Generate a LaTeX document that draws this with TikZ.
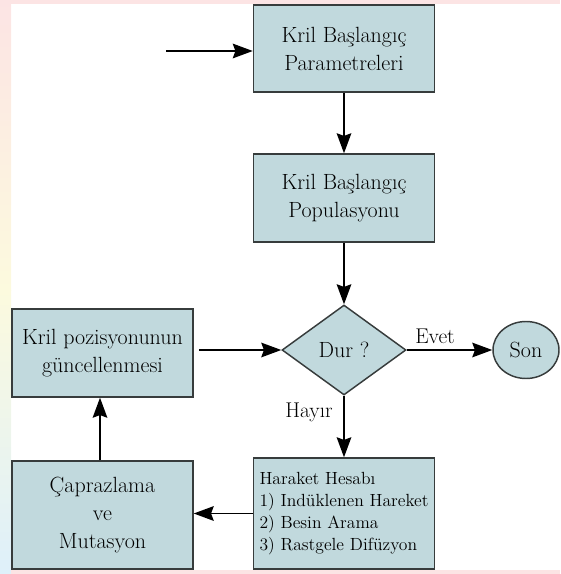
\documentclass[tikz,border=0pt]{standalone}
\usepackage{fontspec}
\usetikzlibrary{shapes.geometric,arrows.meta}
\definecolor{boxfill}{RGB}{193,217,221}
\definecolor{boxline}{RGB}{55,60,60}
\definecolor{wmpink}{RGB}{252,228,228}
\definecolor{wmyellow}{RGB}{252,250,222}
\definecolor{wmblue}{RGB}{222,240,250}
\tikzset{
  stepbox/.style={draw=boxline, fill=boxfill, line width=1.1pt, inner sep=0pt,
    minimum width=135.75pt, align=center, font=\rmfamily\fontsize{16.5}{21}\selectfont},
  decision/.style={diamond, draw=boxline, fill=boxfill, line width=1.1pt, inner sep=0pt,
    minimum width=93pt, minimum height=67.5pt, aspect=1.38, font=\rmfamily\fontsize{16.5}{20}\selectfont},
  terminal/.style={ellipse, draw=boxline, fill=boxfill, line width=1.1pt, inner sep=0pt,
    minimum width=49.5pt, minimum height=42.75pt, font=\rmfamily\fontsize{16.5}{20}\selectfont},
  arr/.style={draw=black, line width=1.1pt, -{Stealth[length=15pt, width=11pt, inset=2pt]}},
  lbl/.style={font=\rmfamily\fontsize{16}{18}\selectfont, inner sep=0pt}
}
\begin{document}
\begin{tikzpicture}[x=0.75pt, y=-0.75pt]
\useasboundingbox (0,0) rectangle (560,574);
% faint background watermark strips
\shade[top color=wmpink, bottom color=wmyellow] (0,0) rectangle (11,290);
\shade[top color=wmyellow, bottom color=wmblue] (0,290) rectangle (11,574);
\fill[wmpink] (11,0) rectangle (560,4);
\fill[wmpink] (11,570) rectangle (560,574);

\node[stepbox, minimum height=65.25pt] (b1) at (344,48.5) {Kril Başlangıç\\Parametreleri};
\node[stepbox, minimum height=66pt] (b2) at (344,198) {Kril Başlangıç\\Populasyonu};
\node[decision] (d) at (344,350) {Dur ?};
\node[terminal] (son) at (526,350) {Son};
\node[stepbox, minimum height=66pt] (kp) at (102.5,353) {Kril pozisyonunun\\güncellenmesi};
\node[stepbox, minimum height=81pt] (cm) at (102.5,515) {Çaprazlama\\ve\\Mutasyon};
\node[stepbox, minimum height=83.25pt, align=left, font=\rmfamily\fontsize{13.2}{16.5}\selectfont] (hh) at (344,513.5)
  {Haraket Hesabı\\1) Indüklenen Hareket\\2) Besin Arama\\3) Rastgele Difüzyon};

\coordinate (in) at (166,51);
\draw[arr] (in) -- (in -| b1.west);
\draw[arr] (b1.south) -- (b2.north);
\draw[arr] (b2.south) -- (d.north);
\draw[arr] (d.east) -- (son.west);
\draw[arr] (d.south) -- (hh.north);
\draw[arr] (hh.west) -- (cm.east |- hh.west);
\draw[arr] (cm.north -| 100,0) -- (kp.south -| 100,0);
\draw[arr, shorten <=4pt] (kp.east |- d.west) -- (d.west);

\node[lbl] (evet) at (435,336) {Evet};
\node[lbl] (hayir) at (309,412) {Hayır};
\end{tikzpicture}
\end{document}
